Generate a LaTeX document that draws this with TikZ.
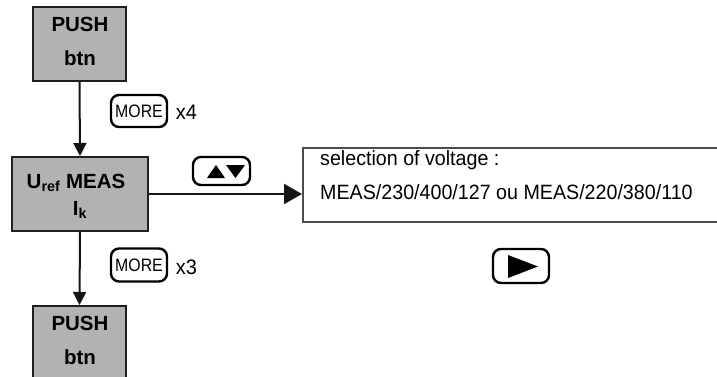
\documentclass[tikz,border=0pt]{standalone}
\usepackage{fontspec}
\setmainfont{Liberation Sans}
\newfontfamily\bodyfont[FakeStretch=0.95]{Liberation Sans}
\newfontfamily\keyfont[FakeStretch=0.88]{Liberation Sans}
\usetikzlibrary{arrows.meta}
\tikzset{
  greybox/.style={draw=black!88, fill=black!30, line width=2pt, inner sep=0pt},
  whitebox/.style={draw=black!70, line width=2pt, inner sep=0pt},
  keybtn/.style={draw=black, line width=2.4pt, rounded corners=8pt, inner sep=0pt},
  boldtxt/.style={font=\fontsize{20.5}{24}\selectfont\bfseries, inner sep=0pt},
  bodytxt/.style={font=\bodyfont\fontsize{20.7}{24}\selectfont, inner sep=0pt, anchor=base west},
  keytxt/.style={font=\keyfont\fontsize{18}{20}\selectfont, inner sep=0pt},
  cnttxt/.style={font=\bodyfont\fontsize{21}{24}\selectfont, inner sep=0pt},
  conn/.style={line width=2pt, draw=black!92},
}
\begin{document}
\begin{tikzpicture}[x=1pt,y=-1pt]
\useasboundingbox (0,0) rectangle (717,376);
\clip (0,0) rectangle (717,376);
% boxes
\node[greybox, minimum width=93pt, minimum height=74pt] (push1) at (79.5,44) {};
\node[boldtxt] (push1a) at (80,24) {PUSH};
\node[boldtxt] (push1b) at (80,58) {btn};

\node[greybox, minimum width=136pt, minimum height=74pt] (meas) at (80,194) {};
\node[boldtxt] (meas1) at (76,183) {U\textsubscript{ref} MEAS};
\node[boldtxt] (meas2) at (80,210) {I\textsubscript{k}};

\node[greybox, minimum width=93pt, minimum height=74pt] (push2) at (79.5,343) {};
\node[boldtxt] (push2a) at (80,323) {PUSH};
\node[boldtxt] (push2b) at (80,357) {btn};

\node[whitebox, minimum width=440pt, minimum height=74pt] (sel) at (523,185) {};
\node[bodytxt] (sel1) at (320,165) {selection of voltage :};
\node[bodytxt] (sel2) at (320,199) {MEAS/230/400/127 ou MEAS/220/380/110};

% connectors
\draw[conn, -{Triangle[length=13pt,width=13pt]}] (push1.south) -- (meas.north);
\draw[conn, -{Triangle[length=13pt,width=13pt]}] (meas.south) -- (push2.north);
\draw[conn, -{Triangle[length=18pt,width=20pt]}] (meas.east) -- (meas.east -| sel.west);

% keys
\node[keybtn, minimum width=56pt, minimum height=32pt] (more1) at (139,111) {};
\node[keytxt] (more1t) at (139,111) {MORE};
\node[cnttxt] (x4) at (186.5,112) {x4};

\node[keybtn, minimum width=56pt, minimum height=33pt] (more2) at (139,265) {};
\node[keytxt] (more2t) at (139,265) {MORE};
\node[cnttxt] (x3) at (186.5,267) {x3};

\node[keybtn, minimum width=57pt, minimum height=28pt] (updown) at (221.5,171) {};
\fill (207,178) -- (225,178) -- (216,165) -- cycle;
\fill (226,165) -- (245,165) -- (235.5,178) -- cycle;

\node[keybtn, minimum width=56pt, minimum height=34pt] (play) at (521,266) {};
\fill (508,255) -- (508,278) -- (538,266.5) -- cycle;
\end{tikzpicture}
\end{document}
